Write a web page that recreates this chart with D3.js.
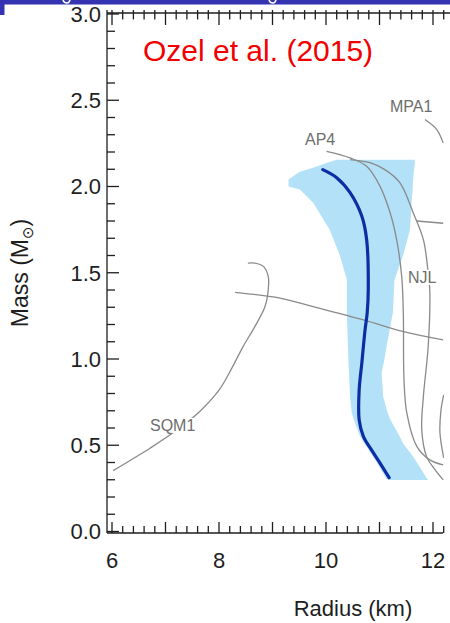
<!DOCTYPE html>
<html>
<head>
<meta charset="utf-8">
<script src="https://cdn.jsdelivr.net/npm/d3@7"></script>
<style>
  html, body { margin: 0; padding: 0; background: #fff; }
  svg { display: block; }
</style>
</head>
<body>
<svg id="chart" width="450" height="623"></svg>
<script>
// ---- Data: mass–radius relation (radius in km, mass in solar masses) ----
const radiusTicks = [6, 8, 10, 12];
const massTicks = [0.0, 0.5, 1.0, 1.5, 2.0, 2.5, 3.0];

// Allowed region (light band): inner / outer radius at each mass
const bandMass = [2.155, 2.133, 2.108, 2.086, 2.04, 2.00, 1.982, 1.906, 1.75, 1.60, 1.46, 1.27, 1.07, 0.98, 0.92, 0.78, 0.69, 0.65, 0.55, 0.51, 0.434, 0.40, 0.31, 0.299];
const bandLo   = [10.20, 9.98, 9.76, 9.51, 9.30, 9.30, 9.51, 9.76, 10.07, 10.26, 10.39, 10.39, 10.41, 10.42, 10.43, 10.45, 10.48, 10.52, 10.64, 10.72, 10.88, 10.95, 11.12, 11.16];
const bandHi   = [11.66, 11.66, 11.65, 11.64, 11.63, 11.62, 11.62, 11.60, 11.57, 11.44, 11.28, 11.25, 11.13, 11.08, 11.04, 11.07, 11.15, 11.20, 11.38, 11.44, 11.63, 11.70, 11.88, 11.91];

// Most likely relation (thick line)
const bestR = [9.94, 10.20, 10.45, 10.67, 10.76, 10.79, 10.77, 10.73, 10.67, 10.62, 10.62, 10.70, 10.85, 11.01, 11.18];
const bestM = [2.098, 2.051, 1.964, 1.827, 1.691, 1.401, 1.268, 1.169, 0.978, 0.821, 0.647, 0.550, 0.473, 0.397, 0.312];

// Equation-of-state curves
const ap4R = [10.01, 10.45, 10.76, 11.01, 11.20, 11.32, 11.415, 11.445, 11.458, 11.51, 11.70, 11.94, 12.19];
const ap4M = [2.204, 2.166, 2.117, 2.001, 1.846, 1.692, 1.479, 1.268, 0.879, 0.688, 0.492, 0.415, 0.386];

const njlR = [10.45, 10.82, 11.10, 11.38, 11.63, 11.82, 11.91, 11.94, 11.91, 11.82, 11.79, 11.88, 12.04, 12.19];
const njlM = [2.156, 2.138, 2.098, 2.022, 1.848, 1.692, 1.500, 1.401, 1.072, 0.782, 0.589, 0.434, 0.357, 0.299];

const mpa1R = [11.85, 12.07, 12.19];
const mpa1M = [2.388, 2.330, 2.253];

const sqm1R = [6.02, 6.71, 7.20, 7.65, 8.00, 8.24, 8.45, 8.67, 8.86, 8.92, 8.92, 8.83, 8.67, 8.54];
const sqm1M = [0.353, 0.483, 0.585, 0.699, 0.819, 0.947, 1.072, 1.188, 1.304, 1.401, 1.479, 1.537, 1.556, 1.556];

const crossR = [8.30, 9.14, 9.76, 10.70, 11.45, 12.19];
const crossM = [1.386, 1.353, 1.304, 1.227, 1.159, 1.111];

const stubR = [11.70, 12.19];
const stubM = [1.800, 1.787];

const edgeR = [12.20, 12.15, 12.13, 12.20];
const edgeM = [0.792, 0.705, 0.572, 0.427];

// Curve labels: name, radius, mass (text anchor at left baseline)
const labelNames = ["MPA1", "AP4", "NJL", "SQM1"];
const labelR = [11.196, 9.607, 11.533, 6.71];
const labelM = [2.434, 2.243, 1.442, 0.583];

// ---- Scales ----
const svg = d3.select("#chart");
const x = d3.scaleLinear().domain([6, 12]).range([112, 433]);
const y = d3.scaleLinear().domain([0, 3]).range([531.5, 14]);

const axisLeftX = 107, axisTopY = 13, axisBottomY = 533, plotRight = 444;
const ink = "#1e1e1e";

// Header strip
svg.append("rect").attr("x", 0).attr("y", 0).attr("width", 450).attr("height", 4.5).attr("fill", "#3434b2");
svg.append("rect").attr("x", 0).attr("y", 0).attr("width", 4.5).attr("height", 15).attr("fill", "#3434b2");
svg.append("path").attr("d", "M63,0 Q64,3 67,3 Q69,3 70,0").attr("fill", "none").attr("stroke", "#fff").attr("stroke-width", 1.6);
svg.append("path").attr("d", "M269,0 Q270,3 273,3 Q275,3 276,0").attr("fill", "none").attr("stroke", "#fff").attr("stroke-width", 1.6);

// Clip region for the plotted curves
svg.append("defs").append("clipPath").attr("id", "plotClip")
  .append("rect").attr("x", axisLeftX).attr("y", axisTopY).attr("width", plotRight - axisLeftX).attr("height", axisBottomY - axisTopY);

const plot = svg.append("g").attr("clip-path", "url(#plotClip)");

// Allowed band
const bandRows = bandMass.map((m, i) => ({ m, lo: bandLo[i], hi: bandHi[i] }));
plot.append("path")
  .datum(bandRows)
  .attr("fill", "#b2e1f8")
  .attr("d", d3.area().y(d => y(d.m)).x0(d => x(d.lo)).x1(d => x(d.hi)).curve(d3.curveLinear));

// EOS curves
const line = d3.line().x(d => x(d[0])).y(d => y(d[1])).curve(d3.curveCatmullRom.alpha(0.5));
const pairs = (rs, ms) => rs.map((r, i) => [r, ms[i]]);
const eos = [pairs(ap4R, ap4M), pairs(njlR, njlM), pairs(mpa1R, mpa1M), pairs(sqm1R, sqm1M),
             pairs(crossR, crossM), pairs(stubR, stubM), pairs(edgeR, edgeM)];
plot.selectAll("path.eos").data(eos).join("path")
  .attr("class", "eos")
  .attr("fill", "none")
  .attr("stroke", "#8a8a8a")
  .attr("stroke-width", 1.3)
  .attr("d", line);

// Most likely relation
plot.append("path")
  .datum(pairs(bestR, bestM))
  .attr("fill", "none")
  .attr("stroke", "#0c2ea4")
  .attr("stroke-width", 3.2)
  .attr("stroke-linecap", "round")
  .attr("d", line);

// Curve labels on white backgrounds
const lab = plot.selectAll("g.lab").data(labelNames).join("g").attr("class", "lab");
lab.append("rect").attr("fill", "#fff");
lab.append("text")
  .attr("x", (d, i) => x(labelR[i]))
  .attr("y", (d, i) => y(labelM[i]))
  .attr("font-family", "Liberation Sans, Arial, sans-serif")
  .attr("font-size", 16)
  .attr("fill", "#6e6e6e")
  .text(d => d);
lab.each(function () {
  const t = d3.select(this).select("text").node().getBBox();
  d3.select(this).select("rect")
    .attr("x", t.x - 1).attr("y", t.y + 1).attr("width", t.width + 2).attr("height", t.height - 2);
});

// ---- Axes frame and ticks ----
const axes = svg.append("g").attr("stroke", ink).attr("stroke-width", 1.3);
axes.append("line").attr("x1", axisLeftX).attr("x2", axisLeftX).attr("y1", axisTopY - 3).attr("y2", axisBottomY);
axes.append("line").attr("x1", axisLeftX).attr("x2", plotRight + 6).attr("y1", axisTopY).attr("y2", axisTopY);
axes.append("line").attr("x1", axisLeftX).attr("x2", plotRight - 1).attr("y1", axisBottomY).attr("y2", axisBottomY);

const rMinor = d3.range(6, 12.21, 0.2).map(v => +v.toFixed(1));
const isInt = v => Math.abs(v - Math.round(v)) < 1e-6;
// top axis ticks (inward)
axes.selectAll("line.tt").data(rMinor.filter(v => x(v) <= 448)).join("line")
  .attr("x1", d => x(d)).attr("x2", d => x(d))
  .attr("y1", axisTopY - 3).attr("y2", d => axisTopY + (isInt(d) ? 12 : 6.5));
// bottom axis ticks (inward)
axes.selectAll("line.bt").data(rMinor.filter(v => x(v) <= plotRight)).join("line")
  .attr("x1", d => x(d)).attr("x2", d => x(d))
  .attr("y1", axisBottomY).attr("y2", d => axisBottomY - (isInt(d) ? 11 : 7));
// left axis ticks (inward)
const mMinor = d3.range(0, 3.001, 0.1).map(v => +v.toFixed(1));
axes.selectAll("line.lt").data(mMinor).join("line")
  .attr("x1", axisLeftX).attr("x2", d => axisLeftX + (Math.abs(d * 2 - Math.round(d * 2)) < 1e-6 ? 12 : 8))
  .attr("y1", d => y(d)).attr("y2", d => y(d));

// Tick labels
const tickFont = "Liberation Sans, Arial, sans-serif";
svg.selectAll("text.xl").data(radiusTicks).join("text")
  .attr("x", d => x(d)).attr("y", 568)
  .attr("text-anchor", "middle")
  .attr("font-family", tickFont).attr("font-size", 22).attr("fill", ink)
  .text(d => d);
svg.selectAll("text.yl").data(massTicks).join("text")
  .attr("x", 101).attr("y", d => y(d)).attr("dy", "0.36em")
  .attr("text-anchor", "end")
  .attr("font-family", tickFont).attr("font-size", 22).attr("fill", ink)
  .text(d => d.toFixed(1));

// Axis titles
svg.append("text")
  .attr("x", 353).attr("y", 616)
  .attr("text-anchor", "middle")
  .attr("font-family", tickFont).attr("font-size", 22).attr("fill", ink)
  .text("Radius (km)");

const yt = svg.append("text")
  .attr("transform", "translate(28,273) rotate(-90)")
  .attr("text-anchor", "middle")
  .attr("font-family", tickFont).attr("font-size", 23).attr("fill", ink);
yt.append("tspan").text("Mass (M");
yt.append("tspan").attr("font-size", 15).attr("dy", 5).attr("font-family", "DejaVu Sans, sans-serif").text("\u2299");
yt.append("tspan").attr("dy", -5).text(")");

// Citation
svg.append("text")
  .attr("x", 143).attr("y", 61)
  .attr("font-family", tickFont).attr("font-size", 30).attr("fill", "#f20000")
  .text("Ozel et al. (2015)");
</script>
</body>
</html>
